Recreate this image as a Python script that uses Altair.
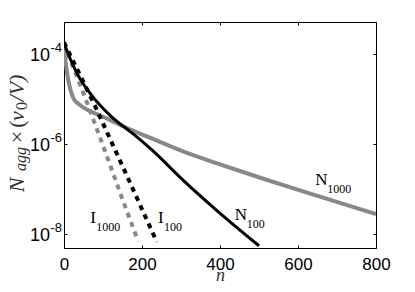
import altair as alt
import pandas as pd

# ---- data ----
n_N1000 = [0, 11, 25, 40, 60, 100, 150, 220, 310, 400, 515, 650, 800]
v_N1000 = [1.2e-4, 2.6e-5, 1.0e-5, 7.4e-6, 5.7e-6, 4.0e-6, 2.5e-6, 1.38e-6,
           6.6e-7, 3.55e-7, 1.66e-7, 7.1e-8, 2.8e-8]

n_N100 = [0, 15, 33, 74, 118, 182, 226, 310, 395, 500]
v_N100 = [1.7e-4, 8.0e-5, 3.7e-5, 1.1e-5, 4.3e-6, 1.55e-6, 7.3e-7, 1.45e-7,
          3.2e-8, 5.6e-9]

n_I100 = [0, 80, 160, 238]
v_I100 = [1.78e-4, 6.8e-6, 2.1e-7, 6.8e-9]

n_I1000 = [0, 50, 100, 150, 190]
v_I1000 = [1.6e-4, 1.32e-5, 9.3e-7, 6.0e-8, 7.1e-9]

x_ticks = [0, 200, 400, 600, 800]
y_ticks = [1e-4, 1e-6, 1e-8]
y_exps = ["-4", "-6", "-8"]

label_main = ["I", "I", "N", "N"]
label_sub = ["1000", "100", "100", "1000"]
label_n = [67, 241, 438, 644]
label_v = [1.79e-8, 1.79e-8, 2.08e-8, 1.24e-7]

GRAY = "#888888"

xs = alt.Scale(domain=[0, 800], nice=False, zero=False)
ys = alt.Scale(type="log", domain=[5e-9, 5e-4], nice=False)

common_axis = dict(domain=False, grid=False, ticks=True, tickSize=3,
                   tickColor="black", tickWidth=1, offset=-3)

ax_bottom = alt.Axis(orient="bottom", values=x_ticks, format="d",
                     labelFont="Liberation Sans", labelFontSize=17,
                     labelColor="black", labelPadding=8, labelFlush=False,
                     labelOverlap=False,
                     title="n", titleFont="Liberation Serif",
                     titleFontStyle="italic", titleFontWeight="normal",
                     titleFontSize=18, titleColor="#333333",
                     titleBaseline="alphabetic", titleY=35, **common_axis)
ax_left = alt.Axis(orient="left", values=y_ticks, labels=False, title=None,
                   **common_axis)
ax_top = alt.Axis(orient="top", values=x_ticks, labels=False, title=None,
                  **common_axis)
ax_right = alt.Axis(orient="right", values=y_ticks, labels=False, title=None,
                    **common_axis)


def line(n, v, color, width, dash=None, axx=None, axy=None, interp="monotone"):
    df = pd.DataFrame({"n": n, "v": v})
    kw = dict(color=color, strokeWidth=width, clip=True, interpolate=interp)
    if dash is not None:
        kw["strokeDash"] = dash
    return alt.Chart(df).mark_line(**kw).encode(
        x=alt.X("n:Q", scale=xs, axis=axx),
        y=alt.Y("v:Q", scale=ys, axis=axy),
    )


l_N1000 = line(n_N1000, v_N1000, GRAY, 4, axx=ax_bottom, axy=ax_left)
l_I1000 = line(n_I1000, v_I1000, GRAY, 4, dash=[5, 5], axx=ax_top,
               axy=ax_right, interp="linear")
l_N100 = line(n_N100, v_N100, "black", 3)
l_I100 = line(n_I100, v_I100, "black", 4, dash=[5, 5], interp="linear")

# y tick labels 10^k
df_yt = pd.DataFrame({"v": y_ticks, "e": y_exps})
yt_base = alt.Chart(df_yt).mark_text(
    align="right", baseline="middle", font="Liberation Sans", fontSize=18,
    color="black", dx=-14, dy=2, text="10"
).encode(x=alt.value(0), y=alt.Y("v:Q", scale=ys, axis=None))
yt_exp = alt.Chart(df_yt).mark_text(
    align="left", baseline="middle", font="Liberation Sans", fontSize=13,
    color="black", dx=-13.5, dy=-6
).encode(x=alt.value(0), y=alt.Y("v:Q", scale=ys, axis=None), text="e:N")

# curve labels
df_lab = pd.DataFrame({"n": label_n, "v": label_v, "m": label_main,
                       "s": label_sub})
lab_I = df_lab[df_lab.m == "I"]
lab_N = df_lab[df_lab.m == "N"]


def labels(df, dx):
    main = alt.Chart(df).mark_text(
        align="left", baseline="alphabetic", font="Liberation Serif",
        fontSize=17, color="black"
    ).encode(x=alt.X("n:Q", scale=xs, axis=None),
             y=alt.Y("v:Q", scale=ys, axis=None), text="m:N")
    sub = alt.Chart(df).mark_text(
        align="left", baseline="alphabetic", font="Liberation Serif",
        fontSize=12, color="black", dx=dx, dy=8
    ).encode(x=alt.X("n:Q", scale=xs, axis=None),
             y=alt.Y("v:Q", scale=ys, axis=None), text="s:N")
    return main + sub


# rotated y-axis title  N_agg x (v_0/V)
dummy = pd.DataFrame({"a": [0]})


def piece(txt, y, x, size, style):
    return alt.Chart(dummy).mark_text(
        text=txt, angle=270, align="center", baseline="alphabetic",
        font="Liberation Serif", fontSize=size, fontStyle=style,
        color="#333333"
    ).encode(x=alt.value(x), y=alt.value(y))


title_layers = [
    piece("N", 163, -40, 22, "italic"),
    piece("agg", 137, -38, 16, "italic"),
    piece("×", 115, -40, 22, "normal"),
    piece("(", 102, -40, 22, "normal"),
    piece("v", 94, -40, 22, "italic"),
    piece("0", 84, -37, 16, "normal"),
    piece("/V)", 66, -40, 22, "italic"),
]

chart = alt.layer(
    l_N1000, l_I1000, l_N100, l_I100, yt_base, yt_exp,
    labels(lab_I, 6), labels(lab_N, 12), *title_layers
).resolve_axis(x="independent", y="independent").properties(
    width=312, height=226,
    autosize=alt.AutoSizeParams(type="none"),
    padding={"left": 56, "top": 14, "right": 31, "bottom": 36},
).configure_view(stroke="black", strokeWidth=1)

chart.save("out.html", embed_options={"renderer": "svg", "actions": False})
